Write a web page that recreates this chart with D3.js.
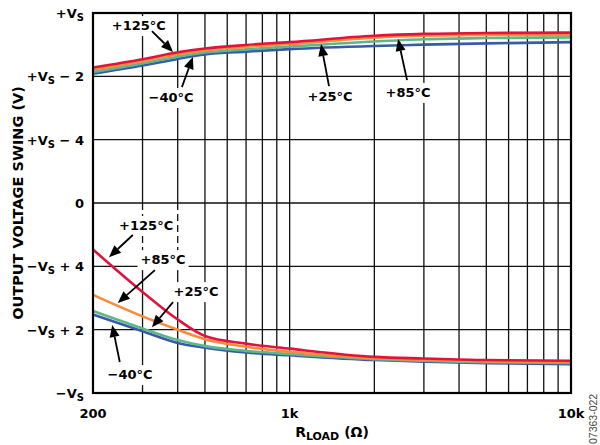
<!DOCTYPE html>
<html lang="en">
<head>
<meta charset="utf-8">
<title>Output Voltage Swing vs Load Resistance</title>
<script src="https://cdn.jsdelivr.net/npm/d3@7"></script>
<style>
body { margin: 0; background: #fff; }
text { font-family: "DejaVu Sans", sans-serif; font-weight: bold; fill: #000; }
</style>
</head>
<body>
<div id="chart"></div>
<script>
var w = 600, h = 445;
var margin = {top: 13, right: 29, bottom: 52, left: 93};

// load resistance, ohms
var rload = [200, 300, 400, 500, 700, 1000, 2000, 3000, 5000, 10000];

// output high swing (V), supply drawn as +/-6
var highRed    = [4.28, 4.54, 4.76, 4.88, 4.99, 5.08, 5.28, 5.34, 5.37, 5.38];
var highOrange = [4.22, 4.48, 4.70, 4.82, 4.93, 5.02, 5.22, 5.28, 5.31, 5.31];
var highGreen  = [4.14, 4.41, 4.62, 4.75, 4.85, 4.94, 5.10, 5.17, 5.21, 5.23];
var highBlue   = [4.08, 4.34, 4.55, 4.69, 4.78, 4.86, 4.96, 5.00, 5.04, 5.08];

// output low swing (V)
var lowRed    = [-1.47, -2.81, -3.68, -4.20, -4.44, -4.60, -4.86, -4.91, -4.96, -4.98];
var lowOrange = [-2.90, -3.58, -4.00, -4.30, -4.54, -4.70, -4.90, -4.95, -5.00, -5.02];
var lowGreen  = [-3.41, -3.96, -4.33, -4.52, -4.67, -4.77, -4.93, -4.98, -5.03, -5.05];
var lowBlue   = [-3.52, -4.05, -4.42, -4.57, -4.72, -4.81, -4.96, -5.01, -5.06, -5.09];

var seriesColors = {red: "#e2133b", orange: "#f88a3c", green: "#5cb78b", blue: "#3a5aa6"};

// y ticks and their labels [main, subscript, rest]
var yTicks = [6, 4, 2, 0, -2, -4, -6];
var yTickText = [
  ["+V", "S", ""], ["+V", "S", " \u2212 2"], ["+V", "S", " \u2212 4"], ["0", "", ""],
  ["\u2212V", "S", " + 4"], ["\u2212V", "S", " + 2"], ["\u2212V", "S", ""]
];
var xTicks = [200, 1000, 10000];
var xTickText = ["200", "1k", "10k"];
var xGrid = [300, 400, 500, 600, 700, 800, 900, 1000, 2000, 3000, 4000, 5000, 6000, 7000, 8000, 9000];
var dashedGrid = [300, 400];

// curve labels: text, label pos (R, V at baseline), arrow tail, arrow tip
var notes = [
  {t: "+125\u00b0C", lr: 291,  lv: 5.46,  ar: 324,  av: 5.43,  br: 385,  bv: 4.77},
  {t: "\u221240\u00b0C", lr: 379, lv: 3.19, ar: 414, av: 3.66, br: 453, bv: 4.61},
  {t: "+25\u00b0C",  lr: 1392, lv: 3.22,  ar: 1380, av: 3.69,  br: 1293, bv: 5.02},
  {t: "+85\u00b0C",  lr: 2636, lv: 3.35,  ar: 2614, av: 3.88,  br: 2429, bv: 5.18},
  {t: "+125\u00b0C", lr: 309,  lv: -0.85, ar: 277,  av: -1.01, br: 228,  bv: -1.71},
  {t: "+85\u00b0C",  lr: 355,  lv: -1.93, ar: 332,  av: -2.12, br: 245,  bv: -3.16},
  {t: "+25\u00b0C",  lr: 465,  lv: -2.94, ar: 385,  av: -3.13, br: 324,  bv: -3.92},
  {t: "\u221240\u00b0C", lr: 271, lv: -5.56, ar: 249, av: -5.02, br: 234, bv: -3.85}
];

var svg = d3.select("#chart").append("svg")
  .attr("width", w)
  .attr("height", h);

var x = d3.scaleLog().domain([200, 10000]).range([margin.left, w - margin.right]);
var y = d3.scaleLinear().domain([-6, 6]).range([h - margin.bottom, margin.top]);

var gGrid = svg.append("g");
var gKnock = svg.append("g");
var gLines = svg.append("g");
var gNotes = svg.append("g");

// horizontal grid
gGrid.selectAll("line.h").data(yTicks.slice(1, -1)).enter().append("line")
  .attr("x1", x(200)).attr("x2", x(10000))
  .attr("y1", function(d) { return y(d); }).attr("y2", function(d) { return y(d); })
  .attr("stroke", "#111").attr("stroke-width", 1.3);

// vertical grid, a couple of them dashed through the label area
xGrid.forEach(function(r) {
  var segs;
  if (dashedGrid.indexOf(r) != -1) {
    segs = [[6, 0, null], [0, -2, "7,4"], [-2, -6, null]];
  } else {
    segs = [[6, -6, null]];
  }
  segs.forEach(function(s) {
    gGrid.append("line")
      .attr("x1", x(r)).attr("x2", x(r))
      .attr("y1", y(s[0])).attr("y2", y(s[1]))
      .attr("stroke", "#111").attr("stroke-width", 1.3)
      .attr("stroke-dasharray", s[2]);
  });
});

var series = [
  {c: "blue", v: highBlue}, {c: "green", v: highGreen}, {c: "orange", v: highOrange}, {c: "red", v: highRed},
  {c: "blue", v: lowBlue}, {c: "green", v: lowGreen}, {c: "orange", v: lowOrange}, {c: "red", v: lowRed}
];

var line = d3.line()
  .x(function(d, i) { return x(rload[i]); })
  .y(function(d) { return y(d); })
  .curve(d3.curveMonotoneX);

gLines.selectAll("path").data(series).enter().append("path")
  .attr("d", function(d) { return line(d.v); })
  .attr("fill", "none")
  .attr("stroke", function(d) { return seriesColors[d.c]; })
  .attr("stroke-width", 2.6);

// curve labels with white knockout behind them
notes.forEach(function(n) {
  var t = gNotes.append("text")
    .attr("x", x(n.lr)).attr("y", y(n.lv))
    .attr("text-anchor", "middle")
    .attr("font-size", 13)
    .text(n.t);
  var bb = t.node().getBBox();
  gKnock.append("rect")
    .attr("x", bb.x - 3).attr("y", bb.y - 2)
    .attr("width", bb.width + 6).attr("height", bb.height + 5)
    .attr("fill", "#fff");

  var x0 = x(n.ar), y0 = y(n.av), x1 = x(n.br), y1 = y(n.bv);
  var ang = Math.atan2(y1 - y0, x1 - x0);
  var hl = 12, hw = 5;
  var bx = x1 - hl * Math.cos(ang), by = y1 - hl * Math.sin(ang);
  gNotes.append("line")
    .attr("x1", x0).attr("y1", y0).attr("x2", bx).attr("y2", by)
    .attr("stroke", "#000").attr("stroke-width", 1.8);
  gNotes.append("path")
    .attr("d", "M" + x1 + "," + y1 +
      "L" + (bx + hw * Math.sin(ang)) + "," + (by - hw * Math.cos(ang)) +
      "L" + (bx - hw * Math.sin(ang)) + "," + (by + hw * Math.cos(ang)) + "Z")
    .attr("fill", "#000");
});

// frame
svg.append("rect")
  .attr("x", x(200)).attr("y", y(6))
  .attr("width", x(10000) - x(200)).attr("height", y(-6) - y(6))
  .attr("fill", "none").attr("stroke", "#000").attr("stroke-width", 2.2);

// y tick labels
yTicks.forEach(function(v, i) {
  var p = yTickText[i];
  var t = svg.append("text")
    .attr("x", x(200) - 9).attr("y", y(v) + 5)
    .attr("text-anchor", "end")
    .attr("font-size", 13);
  t.append("tspan").text(p[0]);
  if (p[1]) {
    t.append("tspan").attr("font-size", 10).attr("dy", 3).text(p[1]);
    if (p[2]) t.append("tspan").attr("dy", -3).text(p[2]);
  }
});

// x tick labels
svg.selectAll("text.xt").data(xTicks).enter().append("text")
  .attr("class", "xt")
  .attr("x", function(d) { return x(d); })
  .attr("y", 418)
  .attr("text-anchor", "middle")
  .attr("font-size", 13)
  .text(function(d, i) { return xTickText[i]; });

// axis titles
var xt = svg.append("text")
  .attr("x", (x(200) + x(10000)) / 2).attr("y", 437)
  .attr("text-anchor", "middle")
  .attr("font-size", 14);
xt.append("tspan").text("R");
xt.append("tspan").attr("font-size", 11).attr("dy", 3).text("LOAD");
xt.append("tspan").attr("dy", -3).text(" (\u03a9)");

svg.append("text")
  .attr("transform", "translate(23," + ((y(6) + y(-6)) / 2) + ") rotate(-90)")
  .attr("text-anchor", "middle")
  .attr("font-size", 14.5)
  .text("OUTPUT VOLTAGE SWING (V)");

svg.append("text")
  .attr("transform", "translate(597,444) rotate(-90)")
  .attr("font-size", 10.5)
  .style("font-family", "'Liberation Sans', sans-serif")
  .style("font-weight", "normal")
  .style("fill", "#444")
  .text("07363-022");
</script>
</body>
</html>
